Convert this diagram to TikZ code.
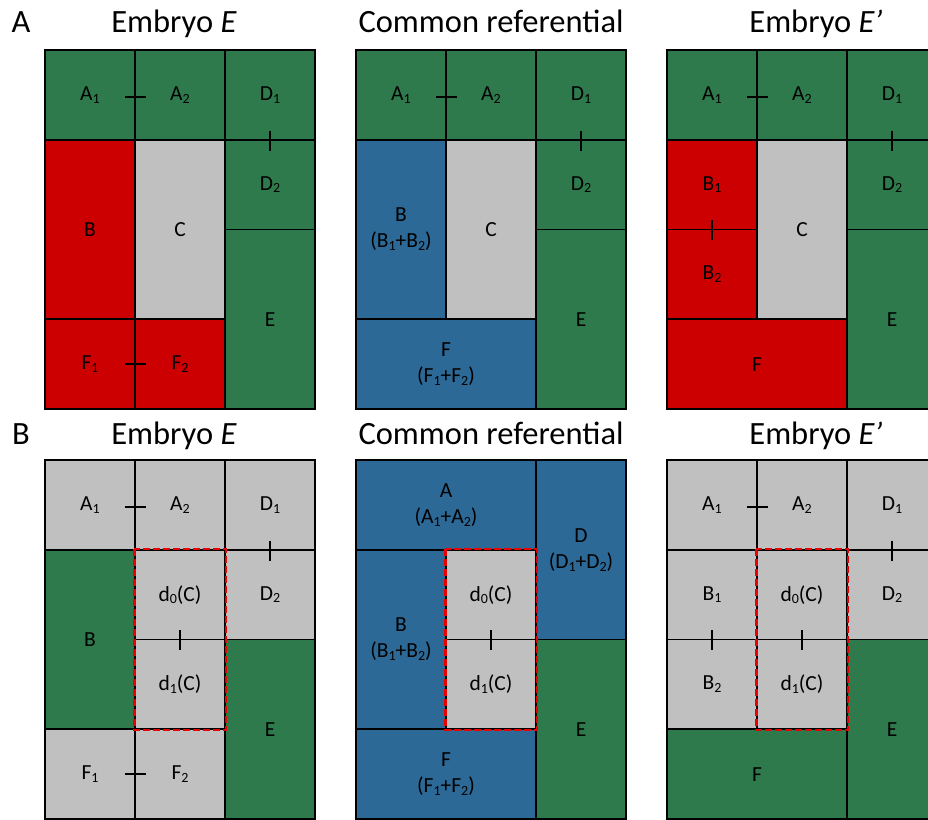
\documentclass[tikz,border=0pt]{standalone}
\usepackage{fontspec}
\setmainfont{Carlito}
\definecolor{cgreen}{RGB}{46,122,77}
\definecolor{cred}{RGB}{204,0,0}
\definecolor{cgray}{RGB}{192,192,192}
\definecolor{cblue}{RGB}{45,105,150}
\definecolor{rdash}{RGB}{235,0,0}
\newcommand\lab{\fontsize{21.5}{26}\selectfont}
\newcommand\ttl{\fontsize{32.5}{36}\selectfont}
\newcommand\sub[1]{\raisebox{-0.28ex}{\fontsize{14}{14}\selectfont #1}}
\tikzset{
  cell/.style={draw=black, line width=1.6pt, inner sep=0pt, minimum width=90pt, minimum height=89.75pt, align=center, font=\lab, text=black},
  wide/.style={minimum width=180pt},
  tall/.style={minimum height=179.5pt},
  gn/.style={cell, fill=cgreen},
  rd/.style={cell, fill=cred},
  gy/.style={cell, fill=cgray},
  bl/.style={cell, fill=cblue},
  tickmark/.style={line width=2pt, black},
  redbox/.style={draw=rdash, line width=2.6pt, dash pattern=on 7pt off 3pt},
  ttlnode/.style={font=\ttl, anchor=base, inner sep=0pt},
}
\begin{document}
\begin{tikzpicture}[x=1pt,y=-1pt]
\useasboundingbox (0,0) rectangle (928,819);
\fill[white] (0,0) rectangle (928,819);
\clip (0,0) rectangle (928,819);

% ---------- titles ----------
\node[ttlnode] (pA) at (21,32) {A};
\node[ttlnode] (pB) at (21,444) {B};
\node[ttlnode] (t1) at (174,32) {Embryo \textit{E}};
\node[ttlnode] (t2) at (491,32) {Common referential};
\node[ttlnode] (t3) at (816,32) {Embryo \textit{E’}};
\node[ttlnode] (t4) at (174,444) {Embryo \textit{E}};
\node[ttlnode] (t5) at (491,444) {Common referential};
\node[ttlnode] (t6) at (816,444) {Embryo \textit{E’}};

% ---------- Panel A, left ----------
\begin{scope}[shift={(45,50)}]
\node[gn] (la1) at (45,44.875) {A\sub{1}};
\node[gn] (la2) at (135,44.875) {A\sub{2}};
\node[gn] (ld1) at (225,44.875) {D\sub{1}};
\node[gn] (ld2) at (225,134.625) {D\sub{2}};
\node[rd,tall] (lb) at (45,179.5) {B};
\node[gy,tall] (lc) at (135,179.5) {C};
\node[gn,tall] (le) at (225,269.25) {E};
\node[rd] (lf1) at (45,314.125) {F\sub{1}};
\node[rd] (lf2) at (135,314.125) {F\sub{2}};
\end{scope}
\draw[tickmark] ([xshift=-10.5pt,yshift=-2pt]la1.east) -- ([xshift=10.5pt,yshift=-2pt]la1.east);
\draw[tickmark] ([yshift=10pt]ld1.south) -- ([yshift=-10pt]ld1.south);
\draw[tickmark] ([xshift=-10.5pt]lf1.east) -- ([xshift=10.5pt]lf1.east);

% ---------- Panel A, middle ----------
\begin{scope}[shift={(356,50)}]
\node[gn] (ma1) at (45,44.875) {A\sub{1}};
\node[gn] (ma2) at (135,44.875) {A\sub{2}};
\node[gn] (md1) at (225,44.875) {D\sub{1}};
\node[gn] (md2) at (225,134.625) {D\sub{2}};
\node[bl,tall] (mb) at (45,179.5) {B\\(B\sub{1}+B\sub{2})};
\node[gy,tall] (mc) at (135,179.5) {C};
\node[gn,tall] (me) at (225,269.25) {E};
\node[bl,wide] (mf) at (90,314.125) {F\\(F\sub{1}+F\sub{2})};
\end{scope}
\draw[tickmark] ([xshift=-10.5pt,yshift=-2pt]ma1.east) -- ([xshift=10.5pt,yshift=-2pt]ma1.east);
\draw[tickmark] ([yshift=10pt]md1.south) -- ([yshift=-10pt]md1.south);

% ---------- Panel A, right ----------
\begin{scope}[shift={(667,50)}]
\node[gn] (ra1) at (45,44.875) {A\sub{1}};
\node[gn] (ra2) at (135,44.875) {A\sub{2}};
\node[gn] (rd1) at (225,44.875) {D\sub{1}};
\node[gn] (rd2) at (225,134.625) {D\sub{2}};
\node[rd] (rb1) at (45,134.625) {B\sub{1}};
\node[rd] (rb2) at (45,224.375) {B\sub{2}};
\node[gy,tall] (rc) at (135,179.5) {C};
\node[gn,tall] (re) at (225,269.25) {E};
\node[rd,wide] (rf) at (90,314.125) {F};
\end{scope}
\draw[tickmark] ([xshift=-10.5pt,yshift=-2pt]ra1.east) -- ([xshift=10.5pt,yshift=-2pt]ra1.east);
\draw[tickmark] ([yshift=10pt]rd1.south) -- ([yshift=-10pt]rd1.south);
\draw[tickmark] ([yshift=10pt]rb1.south) -- ([yshift=-10pt]rb1.south);

% ---------- Panel B, left ----------
\begin{scope}[shift={(45,460)}]
\node[gy] (La1) at (45,44.875) {A\sub{1}};
\node[gy] (La2) at (135,44.875) {A\sub{2}};
\node[gy] (Ld1) at (225,44.875) {D\sub{1}};
\node[gy] (Ld2) at (225,134.625) {D\sub{2}};
\node[gn,tall] (Lb) at (45,179.5) {B};
\node[gy] (Lc0) at (135,134.625) {d\sub{0}(C)};
\node[gy] (Lc1) at (135,224.375) {d\sub{1}(C)};
\node[gn,tall] (Le) at (225,269.25) {E};
\node[gy] (Lf1) at (45,314.125) {F\sub{1}};
\node[gy] (Lf2) at (135,314.125) {F\sub{2}};
\end{scope}
\draw[tickmark] ([xshift=-10.5pt,yshift=-2pt]La1.east) -- ([xshift=10.5pt,yshift=-2pt]La1.east);
\draw[tickmark] ([yshift=10pt]Ld1.south) -- ([yshift=-10pt]Ld1.south);
\draw[tickmark] ([yshift=10pt]Lc0.south) -- ([yshift=-10pt]Lc0.south);
\draw[tickmark] ([xshift=-10.5pt]Lf1.east) -- ([xshift=10.5pt]Lf1.east);
\draw[redbox] (Lc0.north west) rectangle (Lc1.south east);

% ---------- Panel B, middle ----------
\begin{scope}[shift={(356,460)}]
\node[bl,wide] (Ma) at (90,44.875) {A\\(A\sub{1}+A\sub{2})};
\node[bl,tall] (Md) at (225,89.75) {D\\(D\sub{1}+D\sub{2})};
\node[bl,tall] (Mb) at (45,179.5) {B\\(B\sub{1}+B\sub{2})};
\node[gy] (Mc0) at (135,134.625) {d\sub{0}(C)};
\node[gy] (Mc1) at (135,224.375) {d\sub{1}(C)};
\node[gn,tall] (Me) at (225,269.25) {E};
\node[bl,wide] (Mf) at (90,314.125) {F\\(F\sub{1}+F\sub{2})};
\end{scope}
\draw[tickmark] ([yshift=10pt]Mc0.south) -- ([yshift=-10pt]Mc0.south);
\draw[redbox] (Mc0.north west) rectangle (Mc1.south east);

% ---------- Panel B, right ----------
\begin{scope}[shift={(667,460)}]
\node[gy] (Ra1) at (45,44.875) {A\sub{1}};
\node[gy] (Ra2) at (135,44.875) {A\sub{2}};
\node[gy] (Rd1) at (225,44.875) {D\sub{1}};
\node[gy] (Rd2) at (225,134.625) {D\sub{2}};
\node[gy] (Rb1) at (45,134.625) {B\sub{1}};
\node[gy] (Rb2) at (45,224.375) {B\sub{2}};
\node[gy] (Rc0) at (135,134.625) {d\sub{0}(C)};
\node[gy] (Rc1) at (135,224.375) {d\sub{1}(C)};
\node[gn,tall] (Re) at (225,269.25) {E};
\node[gn,wide] (Rf) at (90,314.125) {F};
\end{scope}
\draw[tickmark] ([xshift=-10.5pt,yshift=-2pt]Ra1.east) -- ([xshift=10.5pt,yshift=-2pt]Ra1.east);
\draw[tickmark] ([yshift=10pt]Rd1.south) -- ([yshift=-10pt]Rd1.south);
\draw[tickmark] ([yshift=10pt]Rb1.south) -- ([yshift=-10pt]Rb1.south);
\draw[tickmark] ([yshift=10pt]Rc0.south) -- ([yshift=-10pt]Rc0.south);
\draw[redbox] (Rc0.north west) rectangle (Rc1.south east);
\end{tikzpicture}
\end{document}
